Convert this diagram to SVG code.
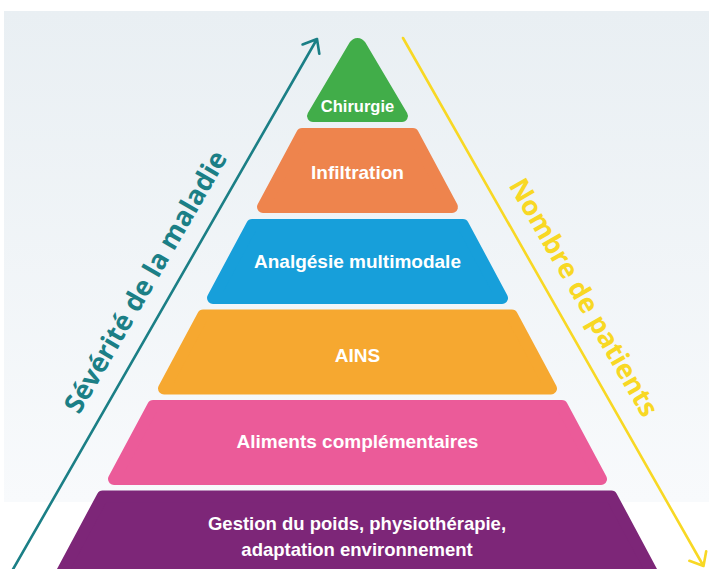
<svg xmlns="http://www.w3.org/2000/svg" width="709" height="569" viewBox="0 0 709 569">
  <defs>
    <linearGradient id="bg" x1="0" y1="0" x2="0" y2="1">
      <stop offset="0" stop-color="#E9EFF3"/>
      <stop offset="1" stop-color="#F8FAFC"/>
    </linearGradient>
  </defs>
  <style>
    .layer { stroke-width: 12; stroke-linejoin: round; }
    .lbl { font-family: "Liberation Sans", Arial, sans-serif; font-weight: bold; font-size: 19px; fill: #FFFFFF; text-anchor: middle; }
    .axis { font-family: "Open Sans", "Liberation Sans", sans-serif; font-weight: 700; font-size: 27px; text-anchor: middle; }
    .conn { fill: none; stroke-width: 2.6; stroke-linecap: round; stroke-linejoin: round; }
  </style>
  <rect x="0" y="0" width="709" height="569" fill="#FFFFFF"/>
  <rect x="4" y="11" width="705" height="491" fill="url(#bg)"/>

  <g id="connectors">
    <path class="conn" stroke="#1B7F86" d="M12 571 L317 39 M302.6 44.5 L317 39 L319.3 53.8"/>
    <path class="conn" stroke="#F8D824" d="M403 38 L703.5 566 M689.4 560.8 L703.5 566 L706.2 551.2"/>
  </g>

  <g id="axis-severite">
    <text class="axis" fill="#1B7F86" transform="translate(153.7 286.5) rotate(-60)">Sévérité de la maladie</text>
  </g>
  <g id="axis-patients">
    <text class="axis" fill="#F8D824" transform="translate(575.8 302) rotate(60)">Nombre de patients</text>
  </g>

  <g id="chirurgie">
    <path fill="#41AD49" d="M349.75 42.37 A9 9 0 0 1 365.25 42.37 L407.13 112.94 A6 6 0 0 1 401.97 122 L313.03 122 A6 6 0 0 1 307.87 112.94 Z"/>
    <text class="lbl" x="357.5" y="111.5" style="font-size:16.5px">Chirurgie</text>
  </g>
  <g id="infiltration">
    <polygon class="layer" fill="#EE844D" stroke="#EE844D" points="302.1,134 412.9,134 452,207 263,207"/>
    <text class="lbl" x="357.5" y="179">Infiltration</text>
  </g>
  <g id="analgesie">
    <polygon class="layer" fill="#179FDA" stroke="#179FDA" points="252.1,225 462.9,225 502,298 213,298"/>
    <text class="lbl" x="357.5" y="268">Analgésie multimodale</text>
  </g>
  <g id="ains">
    <polygon class="layer" fill="#F6A830" stroke="#F6A830" points="203.1,315.5 511.9,315.5 551,388.5 164,388.5"/>
    <text class="lbl" x="357.5" y="362">AINS</text>
  </g>
  <g id="aliments">
    <polygon class="layer" fill="#EB5B99" stroke="#EB5B99" points="153.1,406 561.9,406 601,479 114,479"/>
    <text class="lbl" x="357.5" y="448">Aliments complémentaires</text>
  </g>
  <g id="gestion">
    <polygon class="layer" fill="#7D2678" stroke="#7D2678" points="102.6,496.5 611.4,496.5 670,606 44,606"/>
    <text class="lbl" x="357" y="530" style="font-size:18.5px">Gestion du poids, physiothérapie,</text>
    <text class="lbl" x="357" y="556" style="font-size:18.5px">adaptation environnement</text>
  </g>
</svg>
